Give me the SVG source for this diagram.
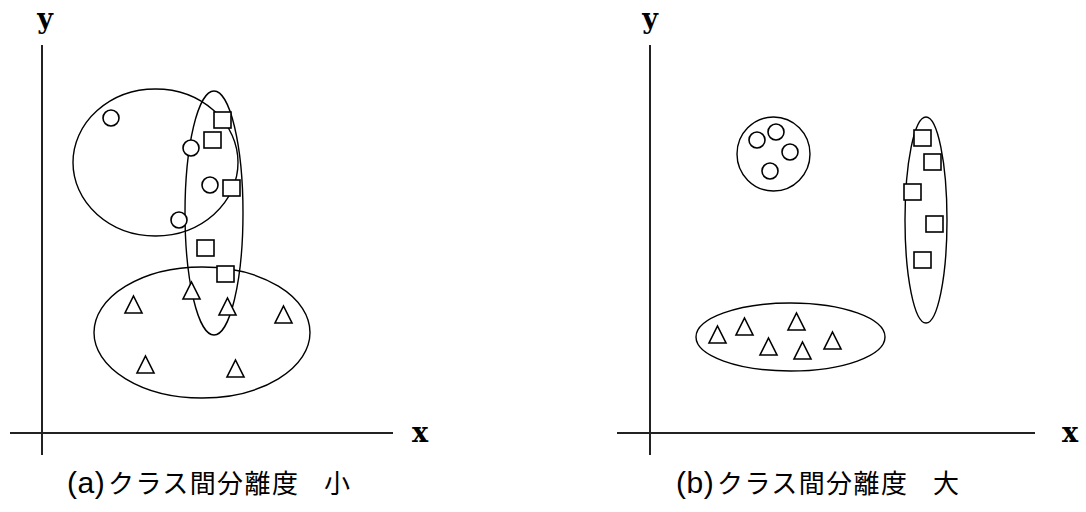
<svg xmlns="http://www.w3.org/2000/svg" xmlns:xlink="http://www.w3.org/1999/xlink" width="1086" height="512" viewBox="0 0 1086 512">
<style>
.axis{stroke:#222;stroke-width:2;fill:none}
.cl{stroke:#000;stroke-width:1.4;fill:none}
.mk{stroke:#000;stroke-width:1.6;fill:#fff}
.al{font-family:"DejaVu Serif","Liberation Serif",serif;font-weight:bold;font-size:27px;fill:#000}
.cap{font-family:"Liberation Sans","Noto Sans CJK JP",sans-serif;font-size:26px;fill:#000}
.lat{font-size:30px;letter-spacing:0.6px}
.jp{letter-spacing:1.4px}
</style>
<defs>
<circle id="o" cx="0" cy="0" r="8" class="mk"/>
<rect id="s" x="0" y="0" width="17" height="16" class="mk"/>
<polygon id="t" points="8.5,0 17,17 0,17" class="mk"/>
</defs>
<rect width="1086" height="512" fill="#fff"/>
<g id="panel-a">
<g id="axes-a">
<line x1="42" y1="45" x2="42" y2="455" class="axis"/>
<line x1="10" y1="433" x2="393" y2="433" class="axis"/>
<text x="45" y="28" class="al" text-anchor="middle">y</text>
<text x="420" y="442" class="al" text-anchor="middle">x</text>
</g>
<g id="clusters-a">
<ellipse cx="155.5" cy="162.5" rx="82.5" ry="73.5" class="cl"/>
<ellipse cx="214" cy="213" rx="29" ry="122" class="cl"/>
<ellipse cx="202" cy="332.5" rx="108" ry="65.5" class="cl"/>
</g>
<g id="points-a">
<use xlink:href="#o" x="111" y="118"/>
<use xlink:href="#o" x="191" y="148"/>
<use xlink:href="#o" x="210" y="185"/>
<use xlink:href="#o" x="179" y="220"/>
<use xlink:href="#s" x="214" y="112"/>
<use xlink:href="#s" x="204" y="132"/>
<use xlink:href="#s" x="223" y="180"/>
<use xlink:href="#s" x="197" y="240"/>
<use xlink:href="#s" x="217" y="266"/>
<use xlink:href="#t" x="183" y="282"/>
<use xlink:href="#t" x="219" y="298"/>
<use xlink:href="#t" x="125" y="296"/>
<use xlink:href="#t" x="275" y="306"/>
<use xlink:href="#t" x="137" y="356"/>
<use xlink:href="#t" x="227" y="360"/>
</g>
<text id="caption-a" y="493" class="cap"><tspan x="67" class="lat">(a)</tspan><tspan x="108" class="jp">クラス間分離度</tspan> <tspan x="324">小</tspan></text>
</g>
<g id="panel-b">
<g id="axes-b">
<line x1="650" y1="45" x2="650" y2="455" class="axis"/>
<line x1="617" y1="433" x2="1035" y2="433" class="axis"/>
<text x="650" y="28" class="al" text-anchor="middle">y</text>
<text x="1070" y="442" class="al" text-anchor="middle">x</text>
</g>
<g id="clusters-b">
<ellipse cx="773.5" cy="154" rx="36.5" ry="37" class="cl"/>
<ellipse cx="926" cy="220" rx="21" ry="103" class="cl"/>
<ellipse cx="790.5" cy="337" rx="94.5" ry="34" class="cl"/>
</g>
<g id="points-b">
<use xlink:href="#o" x="757" y="140"/>
<use xlink:href="#o" x="776" y="132"/>
<use xlink:href="#o" x="790" y="152"/>
<use xlink:href="#o" x="770" y="171"/>
<use xlink:href="#s" x="914" y="130"/>
<use xlink:href="#s" x="924" y="154"/>
<use xlink:href="#s" x="904" y="184"/>
<use xlink:href="#s" x="926" y="216"/>
<use xlink:href="#s" x="914" y="252"/>
<use xlink:href="#t" x="709" y="326"/>
<use xlink:href="#t" x="736" y="318"/>
<use xlink:href="#t" x="788" y="313"/>
<use xlink:href="#t" x="760" y="338"/>
<use xlink:href="#t" x="794" y="342"/>
<use xlink:href="#t" x="824" y="332"/>
</g>
<text id="caption-b" y="493" class="cap"><tspan x="676" class="lat">(b)</tspan><tspan x="717" class="jp">クラス間分離度</tspan> <tspan x="933">大</tspan></text>
</g>
</svg>
